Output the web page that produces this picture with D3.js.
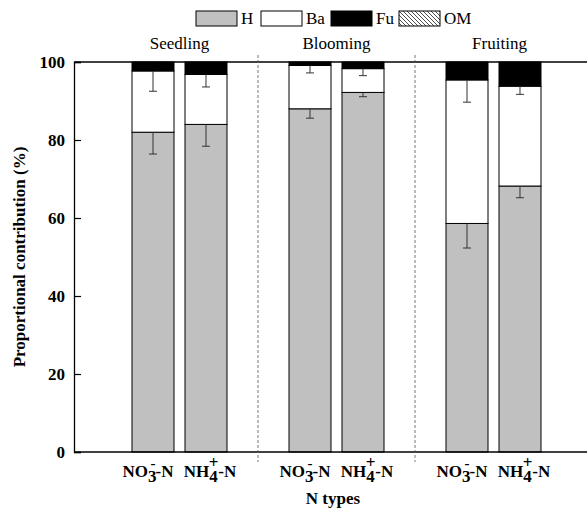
<!DOCTYPE html>
<html>
<head>
  <meta charset="utf-8">
  <script src="https://d3js.org/d3.v7.min.js"></script>
  <style>
    body { margin:0; background:#fff; }
  </style>
</head>
<body>
  <script>
    // data (% contribution, mean and downward error)
    var stages = ["Seedling", "Blooming", "Fruiting"];
    var nTypes = ["NO3", "NH4"];
    var H  = [82.0, 84.0, 88.0, 92.2, 58.6, 68.2];
    var Ba = [15.7, 12.8, 11.1, 6.1, 36.8, 25.6];
    var Fu = [2.3, 3.2, 0.9, 1.7, 4.6, 6.2];
    var OM = [0, 0, 0, 0, 0, 0];
    var H_err  = [5.6, 5.6, 2.4, 1.1, 6.3, 3.0];
    var Ba_err = [5.2, 3.2, 1.9, 1.8, 5.7, 2.1];
    var yTicks = [0, 20, 40, 60, 80, 100];
    var sources = ["H", "Ba", "Fu", "OM"];
    var fills = {H: "#c0c0c0", Ba: "#ffffff", Fu: "#000000", OM: "url(#hatch)"};

    var rows = [];
    stages.forEach(function(s, i) {
      nTypes.forEach(function(t, j) {
        var k = i * 2 + j;
        rows.push({stage: s, type: t, H: H[k], Ba: Ba[k], Fu: Fu[k], OM: OM[k],
                   hErr: H_err[k], baErr: Ba_err[k]});
      });
    });

    var W = 587, Hgt = 508;
    var plotLeft = 74, plotRight = 587, plotTop = 62, plotBottom = 452;

    var svg = d3.select("body").append("svg")
      .attr("width", W).attr("height", Hgt);

    var defs = svg.append("defs");
    var pat = defs.append("pattern").attr("id", "hatch")
      .attr("patternUnits", "userSpaceOnUse").attr("width", 4).attr("height", 4);
    pat.append("rect").attr("width", 4).attr("height", 4).attr("fill", "#fff");
    pat.append("path").attr("d", "M-1,-1 L5,5 M-1,3 L1,5 M3,-1 L5,1")
      .attr("stroke", "#000").attr("stroke-width", 0.7);

    var x0 = d3.scaleBand().domain(stages).range([101, 572]);
    var x1 = d3.scaleBand().domain(nTypes).range([31, 126]).paddingInner(0.2075);
    var y = d3.scaleLinear().domain([0, 100]).range([plotBottom, plotTop]);

    var stack = d3.stack().keys(sources)(rows);

    // bars
    svg.append("g").selectAll("g")
      .data(stack).enter().append("g")
      .attr("fill", function(d) { return fills[d.key]; })
      .selectAll("rect")
      .data(function(d) { return d.filter(function(e) { return e[1] - e[0] > 0; }); })
      .enter().append("rect")
      .attr("x", function(d) { return x0(d.data.stage) + x1(d.data.type); })
      .attr("width", x1.bandwidth())
      .attr("y", function(d) { return y(d[1]); })
      .attr("height", function(d) { return y(d[0]) - y(d[1]); })
      .attr("stroke", "#000").attr("stroke-width", 1);

    // error bars (downward from segment top)
    var errs = [];
    rows.forEach(function(r) {
      errs.push({r: r, top: r.H, err: r.hErr});
      errs.push({r: r, top: r.H + r.Ba, err: r.baErr});
    });
    var eg = svg.append("g").attr("stroke", "#333").attr("stroke-width", 1);
    errs.forEach(function(e) {
      var cx = x0(e.r.stage) + x1(e.r.type) + x1.bandwidth() / 2;
      eg.append("line").attr("x1", cx).attr("x2", cx)
        .attr("y1", y(e.top)).attr("y2", y(e.top - e.err));
      eg.append("line").attr("x1", cx - 4).attr("x2", cx + 4)
        .attr("y1", y(e.top - e.err)).attr("y2", y(e.top - e.err));
    });

    // frame lines
    svg.append("line").attr("x1", plotLeft).attr("x2", plotRight)
      .attr("y1", plotTop).attr("y2", plotTop).attr("stroke", "#000").attr("stroke-width", 1.3);
    svg.append("line").attr("x1", plotLeft).attr("x2", plotRight)
      .attr("y1", plotBottom).attr("y2", plotBottom).attr("stroke", "#000").attr("stroke-width", 1.3);

    // dashed separators
    stages.slice(1).forEach(function(s) {
      svg.append("line").attr("x1", x0(s)).attr("x2", x0(s))
        .attr("y1", 55).attr("y2", 462)
        .attr("stroke", "#555").attr("stroke-width", 0.8)
        .attr("stroke-dasharray", "3,2");
    });

    // y axis
    var yAxis = svg.append("g").attr("transform", "translate(" + plotLeft + ",0)")
      .call(d3.axisLeft(y).tickValues(yTicks).tickSize(-7).tickPadding(9));
    yAxis.select(".domain").attr("stroke-width", 1.3);
    yAxis.selectAll(".tick line").attr("stroke-width", 1.2);
    yAxis.selectAll(".tick text").attr("font-size", 17).attr("font-weight", "bold")
      .attr("fill", "#000");

    svg.append("text")
      .attr("transform", "translate(25," + ((plotTop + plotBottom) / 2) + ") rotate(-90)")
      .attr("text-anchor", "middle").attr("font-size", 17).attr("font-weight", "bold")
      .text("Proportional contribution (%)");

    // stage labels
    svg.selectAll(".stage").data(stages).enter().append("text")
      .attr("x", function(d) { return x0(d) + x0.bandwidth() / 2 + (d === "Fruiting" ? 6 : 0); })
      .attr("y", 49).attr("text-anchor", "middle").attr("font-size", 17)
      .text(function(d) { return d; });

    // x tick labels with ion notation
    var labShift = {NO3: -5, NH4: 4};
    rows.forEach(function(r) {
      var cx = x0(r.stage) + x1(r.type) + x1.bandwidth() / 2 + labShift[r.type];
      var t = svg.append("text").attr("x", cx).attr("y", 477)
        .attr("text-anchor", "middle").attr("font-size", 17).attr("font-weight", "bold");
      var base = r.type === "NO3" ? "NO" : "NH";
      var sub = r.type === "NO3" ? "3" : "4";
      var sup = r.type === "NO3" ? "-" : "+";
      t.append("tspan").text(base);
      t.append("tspan").attr("dy", 5).text(sub);
      t.append("tspan").attr("dx", r.type === "NO3" ? -6 : -9).attr("dy", -14)
        .attr("font-size", r.type === "NO3" ? 15 : 17).text(sup);
      t.append("tspan").attr("dy", 9).text("-N");
    });

    svg.append("text").attr("x", 333).attr("y", 504)
      .attr("text-anchor", "middle").attr("font-size", 17).attr("font-weight", "bold")
      .text("N types");

    // legend
    var legX = [196, 261, 331, 399];
    var leg = svg.append("g");
    sources.forEach(function(s, i) {
      leg.append("rect").attr("x", legX[i]).attr("y", 11).attr("width", 41).attr("height", 15)
        .attr("fill", fills[s]).attr("stroke", "#000").attr("stroke-width", 1);
      leg.append("text").attr("x", legX[i] + 45).attr("y", 24).attr("font-size", 17).text(s);
    });

    svg.selectAll("text").style("font-family", "'Liberation Serif'");
  </script>
</body>
</html>
